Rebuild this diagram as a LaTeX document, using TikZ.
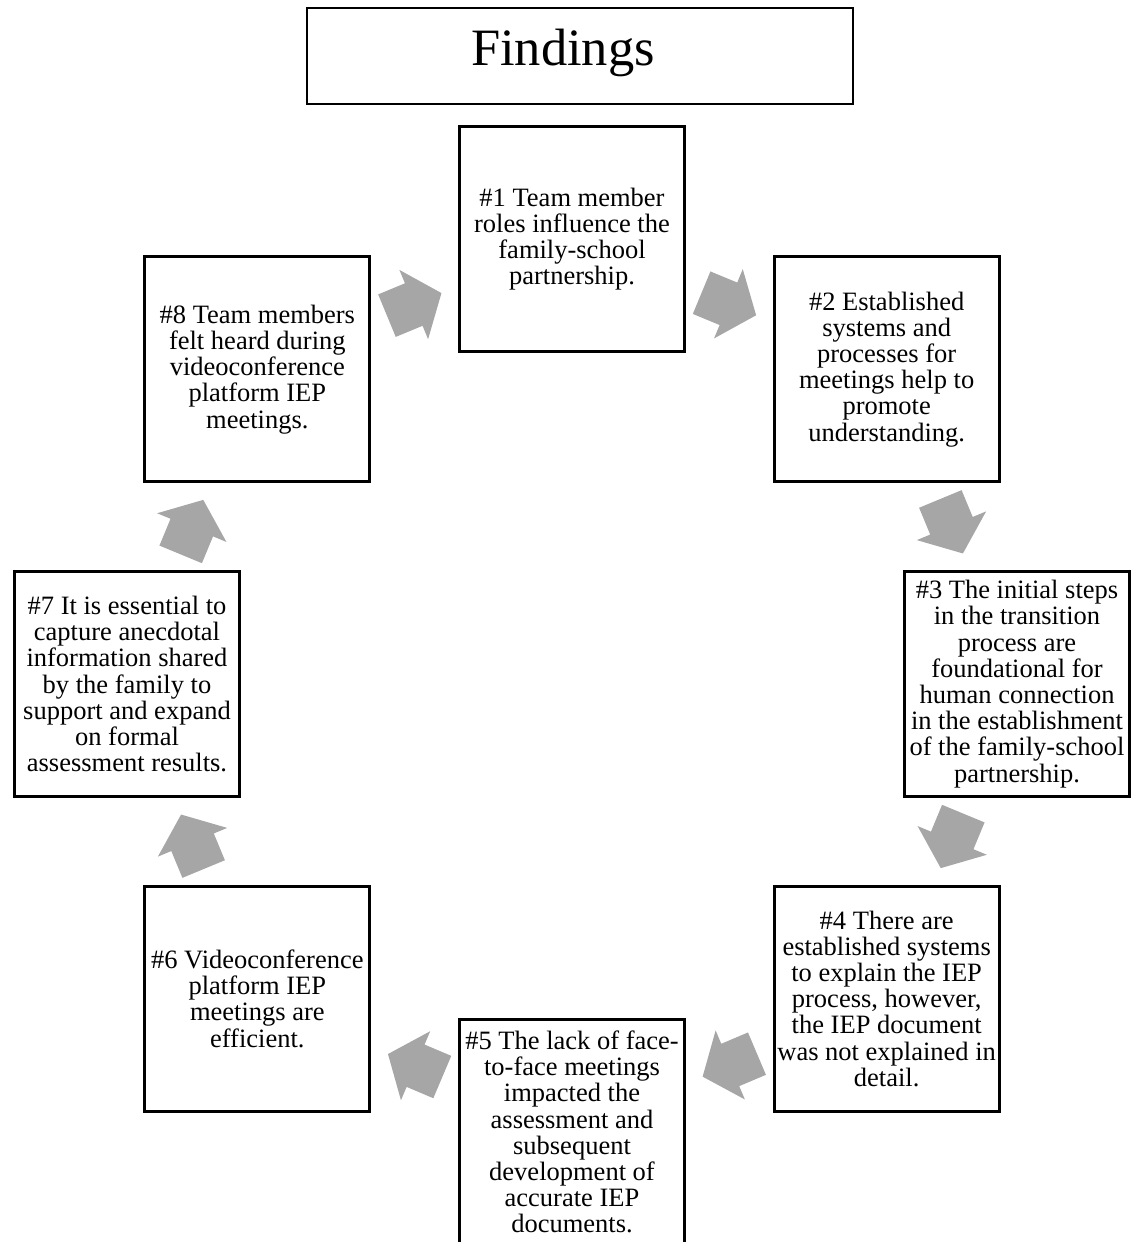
\documentclass[tikz,border=0pt]{standalone}
\usepackage{fontspec}
\setmainfont{Liberation Serif}
\usetikzlibrary{calc}
\definecolor{arrowgray}{RGB}{166,166,166}

\begin{document}
\begin{tikzpicture}[x=1pt, y=-1pt,
    finding/.style={draw, line width=2.8pt, minimum width=225pt, minimum height=225pt,
      inner sep=2pt, align=center, font=\fontsize{26.5}{26.2}\selectfont},
    cyclearrow/.pic={\fill[arrowgray] (-30,-23) -- (-1,-23) -- (-1,-37.5) -- (29,0)
      -- (-1,37.5) -- (-1,23) -- (-30,23) -- cycle;}]
    \useasboundingbox (0,0) rectangle (1132,1242);
    \draw[line width=1.3pt] (307,8) rectangle (853,104);
    \node[font=\fontsize{52.5}{60}\selectfont] (title) at (563,53) {Findings};
    \coordinate (c) at (572,684);
    \node[finding] (f1) at ($(c)+(-90:445)$) {\#1 Team member\\roles influence the\\family-school\\partnership.};
    \node[finding] (f2) at ($(c)+(-45:445)$) {\#2 Established\\systems and\\processes for\\meetings help to\\promote\\understanding.};
    \node[finding] (f3) at ($(c)+(0:445)$) {\#3 The initial steps\\in the transition\\process are\\foundational for\\human connection\\in the establishment\\of the family-school\\partnership.};
    \node[finding] (f4) at ($(c)+(45:445)$) {\#4 There are\\established systems\\to explain the IEP\\process, however,\\the IEP document\\was not explained in\\detail.};
    \node[finding] (f5) at ($(c)+(90:448)$) {\#5 The lack of face-\\to-face meetings\\impacted the\\assessment and\\subsequent\\development of\\accurate IEP\\documents.};
    \node[finding] (f6) at ($(c)+(135:445)$) {\#6 Videoconference\\platform IEP\\meetings are\\efficient.};
    \node[finding] (f7) at ($(c)+(180:445)$) {\#7 It is essential to\\capture anecdotal\\information shared\\by the family to\\support and expand\\on formal\\assessment results.};
    \node[finding] (f8) at ($(c)+(225:445)$) {\#8 Team members\\felt heard during\\videoconference\\platform IEP\\meetings.};
    % block arrows round the cycle
    \foreach \a/\b in {8/1,1/2,2/3,3/4,4/5,5/6,6/7,7/8}
      \path (f\a.center) -- pic[sloped, allow upside down, pos=0.5] {cyclearrow} (f\b.center);
\end{tikzpicture}
\end{document}
